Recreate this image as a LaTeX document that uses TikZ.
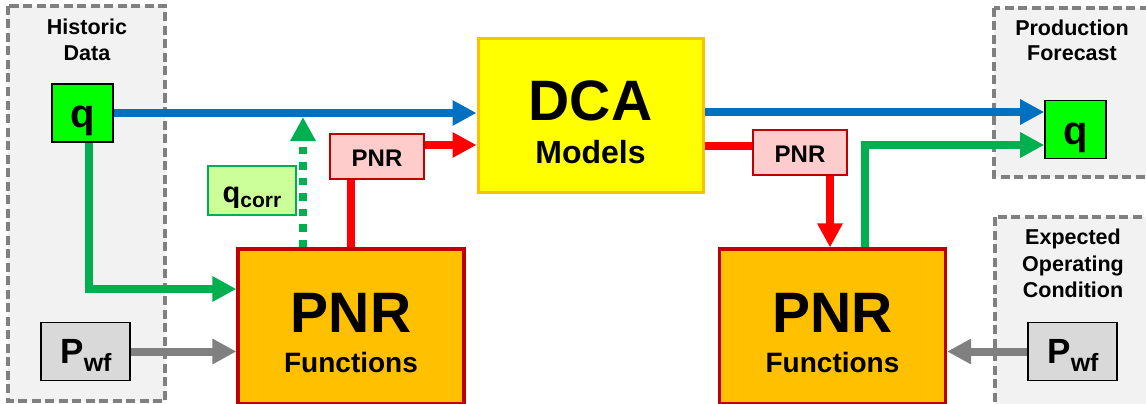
\documentclass[tikz,border=0pt]{standalone}
\usepackage{fontspec}
\setmainfont{Liberation Sans}
\usetikzlibrary{arrows.meta,calc}
\definecolor{cBlue}{HTML}{0070C0}
\definecolor{cGreen}{HTML}{00B050}
\definecolor{cRed}{HTML}{FF0000}
\definecolor{cDarkRed}{HTML}{C00000}
\definecolor{cGray}{HTML}{808080}
\definecolor{cLime}{HTML}{00FF00}
\definecolor{cOrange}{HTML}{FFC000}
\definecolor{cYellow}{HTML}{FFFF00}
\definecolor{cPink}{HTML}{FFCCCC}
\definecolor{cLightGreen}{HTML}{CCFF99}
\definecolor{cPanel}{HTML}{F2F2F2}
\definecolor{cBoxGray}{HTML}{D9D9D9}
\newcommand{\fs}[1]{\fontsize{#1}{#1}\selectfont}
\tikzset{
  panel/.style={draw=cGray, fill=cPanel, line width=3.3pt, dash pattern=on 9pt off 4.5pt},
  qbox/.style={draw=black, fill=cLime, line width=1.6pt, minimum width=61pt, minimum height=58pt, inner sep=0pt},
  pwfbox/.style={draw=black, fill=cBoxGray, line width=1.6pt, minimum width=89pt, minimum height=58pt, inner sep=0pt},
  bigbox/.style={draw=cDarkRed, fill=cOrange, line width=3.2pt, minimum width=226pt, minimum height=155pt, inner sep=0pt},
  smallbox/.style={draw=cDarkRed, fill=cPink, line width=1.6pt, minimum width=94pt, minimum height=45pt, inner sep=0pt},
  lbl/.style={inner sep=0pt, anchor=base, font=\bfseries, align=center},
  conn/.style={line width=8pt},
  tip/.style={-{Triangle[length=24pt,width=24pt]}},
}
\begin{document}
\begin{tikzpicture}[x=1pt,y=-1pt]
\useasboundingbox (0,0) rectangle (1146,404);
% panels
\draw[panel] (8,6) rectangle (165,401);
\draw[panel] (994,8) rectangle (1152,177);
\draw[panel] (995,217) rectangle (1152,410);
\node[lbl] (tHist) at (87,35) {\fs{21.5}Historic};
\node[lbl] (tData) at (87,61) {\fs{21.5}Data};
\node[lbl] (tProd) at (1072,36) {\fs{21.5}Production};
\node[lbl] (tFore) at (1072,61) {\fs{21.5}Forecast};
\node[lbl] (tExp) at (1073,244) {\fs{21.5}Expected};
\node[lbl] (tOp) at (1073,271) {\fs{21.5}Operating};
\node[lbl] (tCond) at (1073,297) {\fs{21.5}Condition};
% boxes
\node[qbox] (qL) at (82.5,113) {};
\node[lbl] (qLt) at (82.5,127) {\fs{40}q};
\node[pwfbox] (pwfL) at (85.5,351.5) {};
\node[lbl] (pwfLt) at (86,363) {\fs{35}P\raisebox{-8pt}{\fs{25}wf}};
\node[bigbox] (pnrB1) at (351,326.5) {};
\node[lbl] (pnrB1t) at (351,332) {\fs{57}PNR};
\node[lbl] (pnrB1f) at (351,372) {\fs{28}Functions};
\node[draw=cGreen, fill=cLightGreen, line width=1.6pt, minimum width=88pt, minimum height=49pt, inner sep=0pt] (qcorr) at (252,190.5) {};
\node[lbl] (qcorrt) at (252,202) {\fs{29}q\raisebox{-5pt}{\fs{21}corr}};
\node[smallbox] (pnrS1) at (377,156.5) {};
\node[lbl] (pnrS1t) at (377,166) {\fs{24}PNR};
\node[draw=cOrange, fill=cYellow, line width=3pt, minimum width=225pt, minimum height=153pt, inner sep=0pt] (dca) at (590.5,115.5) {};
\node[lbl] (dcat) at (590.5,120) {\fs{57}DCA};
\node[lbl] (dcam) at (590.5,163) {\fs{32}Models};
\node[smallbox] (pnrS2) at (800,152.5) {};
\node[lbl] (pnrS2t) at (800,162) {\fs{24}PNR};
\node[bigbox] (pnrB2) at (832.5,326.5) {};
\node[lbl] (pnrB2t) at (832.5,332) {\fs{57}PNR};
\node[lbl] (pnrB2f) at (832.5,372) {\fs{28}Functions};
\node[qbox] (qR) at (1075.5,129.5) {};
\node[lbl] (qRt) at (1075.5,144) {\fs{40}q};
\node[pwfbox] (pwfR) at (1072.5,351.5) {};
\node[lbl] (pwfRt) at (1073,363) {\fs{35}P\raisebox{-8pt}{\fs{25}wf}};
\coordinate (corrTip) at (303,117);
% connectors
\draw[conn, cBlue, tip] (qL.east) -- (qL.east -| dca.west);
\draw[conn, cGreen, tip] ([xshift=6pt]qL.south) |- ([yshift=37.5pt]pnrB1.west);
\draw[conn, cGray, tip] (pwfL.east) -- (pwfL.east -| pnrB1.west);
\draw[conn, cGreen, tip, dash pattern=on 7.5pt off 8pt] ([xshift=-48pt]pnrB1.north) -- (corrTip);
\draw[conn, cRed] (pnrB1.north) -- (pnrB1.north |- pnrS1.south);
\draw[conn, cRed, tip] ([yshift=11.5pt]pnrS1.east) -- ([yshift=11.5pt]pnrS1.east -| dca.west);
\draw[conn, cBlue, tip] ([yshift=17.5pt]qR.west -| dca.east) -- ([yshift=17.5pt]qR.west);
\draw[conn, cRed] ([yshift=6.5pt]pnrS2.west -| dca.east) -- ([yshift=6.5pt]pnrS2.west);
\draw[conn, cRed, tip] ([xshift=30pt]pnrS2.south) -- ([xshift=30pt]pnrS2.south |- pnrB2.north);
\draw[conn, cGreen, tip] ([xshift=32.5pt]pnrB2.north) |- ([yshift=-15.5pt]qR.west);
\draw[conn, cGray, tip] (pwfR.west) -- (pwfR.west -| pnrB2.east);
\end{tikzpicture}
\end{document}
